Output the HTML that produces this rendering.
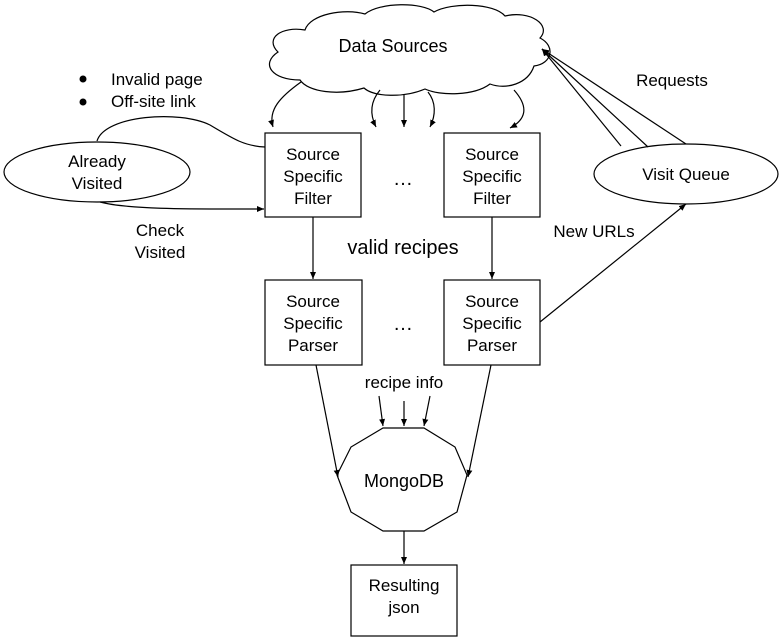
<!DOCTYPE html>
<html><head><style>body{margin:0;background:#fff}svg{display:block}text{font-family:"Liberation Sans",Arial,sans-serif;font-size:17px;fill:#000}</style></head>
<body>
<svg width="784" height="640" viewBox="0 0 784 640" xmlns="http://www.w3.org/2000/svg">
<defs><marker id="a" markerWidth="8" markerHeight="8" refX="7" refY="4" orient="auto" markerUnits="userSpaceOnUse"><path d="M0,1 L7,4 L0,7 z" fill="#000"/></marker></defs>
<g fill="none" stroke="#000" stroke-width="1.2">
<path d="M300,80 C272,80 260,64 278,52 C264,38 282,26 305,30 C310,14 345,8 365,14 C380,2 422,2 434,12 C452,2 494,3 505,16 C530,10 552,25 540,38 C556,46 552,64 534,66 C528,84 506,90 490,84 C474,96 440,96 425,89 C404,98 374,97 364,88 C338,96 308,92 300,80 Z"/>
<rect x="265" y="133" width="96" height="84"/>
<rect x="444" y="133" width="96" height="84"/>
<rect x="265" y="280" width="97" height="85"/>
<rect x="444" y="280" width="96" height="85"/>
<rect x="351" y="565" width="106" height="71"/>
<ellipse cx="97" cy="172" rx="93" ry="30"/>
<ellipse cx="686" cy="174" rx="92" ry="30"/>
<polygon points="383,428 424,428 455,447 467,475 457,512 424,531 383,531 351,512 337,475 351,447"/>
<path d="M301,82 C280,97 268,110 273,127" marker-end="url(#a)"/>
<path d="M380,90 C370,102 370,115 376,127" marker-end="url(#a)"/>
<path d="M404,94 L404,127" marker-end="url(#a)"/>
<path d="M428,92 C436,102 436,115 430,127" marker-end="url(#a)"/>
<path d="M514,90 C530,108 525,120 510,128" marker-end="url(#a)"/>
<path d="M97,141 C105,115 180,110 210,125 C235,140 245,146 265,147"/>
<path d="M100,202 C130,210 200,209 264,209" marker-end="url(#a)"/>
<path d="M313,217 L313,279" marker-end="url(#a)"/>
<path d="M492,217 L492,279" marker-end="url(#a)"/>
<path d="M621,146 L542,49" marker-end="url(#a)"/>
<path d="M648,147 L542,49" marker-end="url(#a)"/>
<path d="M686,144 L542,49" marker-end="url(#a)"/>
<path d="M540,322 L686,204" marker-end="url(#a)"/>
<path d="M316,365 L338,477" marker-end="url(#a)"/>
<path d="M491,365 L468,477" marker-end="url(#a)"/>
<path d="M379,396 L383,426" marker-end="url(#a)"/>
<path d="M404,401 L404,426" marker-end="url(#a)"/>
<path d="M430,396 L424,426" marker-end="url(#a)"/>
<path d="M404,531 L404,564" marker-end="url(#a)"/>
</g>
<g text-anchor="middle">
<text x="393" y="52" style="font-size:18px">Data Sources</text>
<text x="313" y="160">Source</text><text x="313" y="182">Specific</text><text x="313" y="204">Filter</text>
<text x="492" y="160">Source</text><text x="492" y="182">Specific</text><text x="492" y="204">Filter</text>
<text x="313" y="307">Source</text><text x="313" y="329">Specific</text><text x="313" y="351">Parser</text>
<text x="492" y="307">Source</text><text x="492" y="329">Specific</text><text x="492" y="351">Parser</text>
<text x="404" y="591">Resulting</text><text x="404" y="613">json</text>
<text x="404" y="487" style="font-size:18px">MongoDB</text>
<text x="404" y="388">recipe info</text>
<text x="403" y="254" style="font-size:20px">valid recipes</text>
<text x="97" y="167">Already</text><text x="97" y="189">Visited</text>
<text x="686" y="180">Visit Queue</text>
<text x="160" y="236">Check</text><text x="160" y="258">Visited</text>
<text x="672" y="86">Requests</text>
<text x="594" y="237">New URLs</text>
<text x="403" y="185" style="font-size:20px">…</text>
<text x="403" y="330" style="font-size:20px">…</text>
</g>
<circle cx="83" cy="79" r="3.5" fill="#000"/><circle cx="83" cy="102" r="3.5" fill="#000"/>
<text x="111" y="85">Invalid page</text>
<text x="111" y="107">Off-site link</text>
</svg>
</body></html>
